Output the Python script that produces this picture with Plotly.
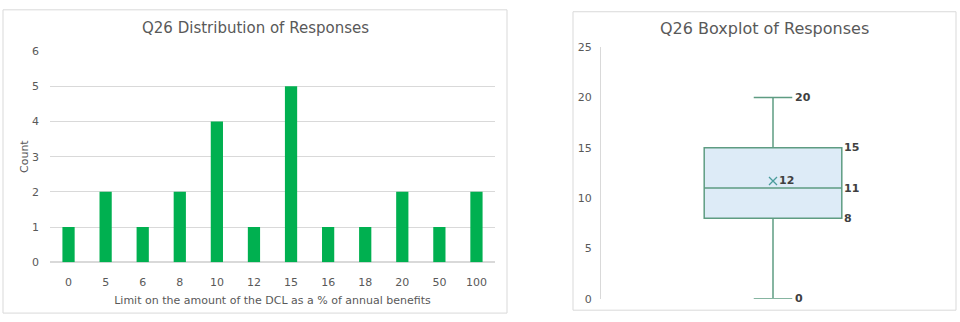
import plotly.graph_objects as go

# ---- data ----
categories = ["0", "5", "6", "8", "10", "12", "15", "16", "18", "20", "50", "100"]
counts = [1, 2, 1, 2, 4, 1, 5, 1, 1, 2, 1, 2]

box_min = 0
box_q1 = 8
box_median = 11
box_q3 = 15
box_max = 20
box_mean = 11.7
box_labels = ["20", "15", "11", "8", "0"]
box_label_values = [20, 15, 11, 8, 0]
mean_label = "12"

W, H = 960, 322
def px(x): return x / W
def py(y): return (H - y) / H

FONT = "DejaVu Sans"
GRAY = "#595959"

fig = go.Figure()

fig.add_trace(go.Bar(
    x=categories, y=counts, marker=dict(color="#00b050", line=dict(width=0)),
    xaxis="x", yaxis="y", showlegend=False, hoverinfo="x+y",
))

fig.add_trace(go.Box(
    x=[0], q1=[box_q1], median=[box_median], q3=[box_q3],
    lowerfence=[box_min], upperfence=[box_max],
    fillcolor="#ddebf7", line=dict(color="#5e9c82", width=1.5),
    width=0.8, whiskerwidth=0.28, boxpoints=False,
    xaxis="x2", yaxis="y2", showlegend=False,
))

fig.add_trace(go.Scatter(
    x=[0], y=[box_mean], mode="markers+text",
    marker=dict(symbol="x-thin", size=8, line=dict(color="#4a9c9c", width=1.3)),
    text=["<b>" + mean_label + "</b>"], textposition="middle right",
    textfont=dict(family=FONT, size=11, color="#404040"),
    xaxis="x2", yaxis="y2", showlegend=False, cliponaxis=False,
))

annotations = [
    dict(text="Q26 Distribution of Responses", x=px(255), y=py(23), xref="paper", yref="paper",
         showarrow=False, font=dict(family=FONT, size=15, color=GRAY), xanchor="center", yanchor="middle"),
    dict(text="Q26 Boxplot of Responses", x=px(764), y=py(23), xref="paper", yref="paper",
         showarrow=False, font=dict(family=FONT, size=16, color=GRAY), xanchor="center", yanchor="middle"),
]
for lab, v in zip(box_labels, box_label_values):
    xoff = 0.4 if v in (box_q1, box_median, box_q3) else 0.115
    annotations.append(dict(text="<b>" + lab + "</b>", x=xoff, y=v, xref="x2", yref="y2",
                            showarrow=False, xanchor="left", yanchor="middle",
                            font=dict(family=FONT, size=11, color="#404040")))

shapes = [
    dict(type="rect", xref="paper", yref="paper", x0=px(3), x1=px(507), y0=py(320), y1=py(4),
         line=dict(color="#d9d9d9", width=1)),
    dict(type="rect", xref="paper", yref="paper", x0=px(573), x1=px(956), y0=py(317), y1=py(6),
         line=dict(color="#d9d9d9", width=1)),
]

fig.update_layout(
    width=W, height=H, margin=dict(l=0, r=0, t=0, b=0),
    paper_bgcolor="white", plot_bgcolor="white",
    font=dict(family=FONT, size=11, color=GRAY),
    bargap=0.67,
    annotations=annotations, shapes=shapes,
    xaxis=dict(domain=[px(50), px(495)], anchor="y", type="category",
               showgrid=False, showline=False, ticks="", tickfont=dict(size=11, color=GRAY),
               ticklabelstandoff=12,
               title=dict(text="Limit on the amount of the DCL as a % of annual benefits",
                          font=dict(size=11, color=GRAY), standoff=8)),
    yaxis=dict(domain=[py(267), py(47)], anchor="x", range=[0, 6], dtick=1,
               showgrid=True, gridcolor="#d9d9d9", zeroline=True, zerolinecolor="#d9d9d9",
               showline=False, ticks="", tickfont=dict(size=11, color=GRAY), ticklabelstandoff=10,
               title=dict(text="Count", font=dict(size=11, color=GRAY), standoff=1)),
    xaxis2=dict(domain=[px(601), px(945)], anchor="y2", range=[-1, 1],
                showgrid=False, showline=False, zeroline=False, showticklabels=False, ticks=""),
    yaxis2=dict(domain=[py(305), py(43)], anchor="x2", range=[0, 25], dtick=5,
                showgrid=False, zeroline=False, showline=True, linecolor="#d9d9d9",
                ticks="", tickfont=dict(size=11, color=GRAY), ticklabelstandoff=6),
)

fig.write_html("out.html")
